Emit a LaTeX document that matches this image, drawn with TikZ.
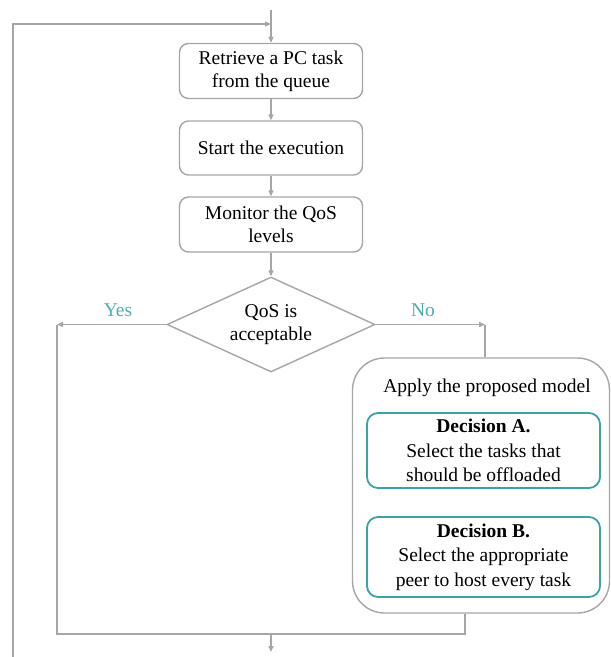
\documentclass[tikz,border=0pt]{standalone}
\usepackage{fontspec}
\setmainfont{Liberation Serif}
\usetikzlibrary{shapes.geometric,arrows.meta}
\definecolor{lineg}{HTML}{A6A6A6}
\definecolor{teal1}{HTML}{3AA3A6}
\definecolor{teallab}{HTML}{4BAEB0}
\tikzset{
  x=1pt,y=1pt,
  conn/.style={draw=lineg,line width=1.4pt},
  arr/.style={conn,-{Triangle[length=6pt,width=5pt]}},
  stepbox/.style={draw=lineg,line width=1.4pt,rounded corners=9pt,minimum width=183pt,minimum height=55pt,align=center,font=\fontsize{19.5}{23}\selectfont,inner sep=0pt},
  decbox/.style={draw=teal1,line width=1.8pt,rounded corners=11pt,minimum width=233pt,align=center,font=\fontsize{19.5}{24.5}\selectfont,inner sep=0pt},
  lab/.style={text=teallab,font=\fontsize{19.5}{22}\selectfont}
}
\begin{document}
\begin{tikzpicture}
\useasboundingbox (0,0) rectangle (611,-657);
\node[stepbox] (b1) at (271,-71) {Retrieve a PC task\\from the queue};
\node[stepbox,minimum height=54pt] (b2) at (271,-148) {Start the execution};
\node[stepbox] (b3) at (271,-224.5) {Monitor the QoS\\levels};
\node[draw=lineg,line width=1.4pt,diamond,minimum width=208pt,minimum height=95pt,inner sep=0pt] (d) at (271,-324.5) {};
\node[align=center,font=\fontsize{19.5}{23}\selectfont,inner sep=0pt] (dt) at (d.center) {QoS is\\acceptable};
% big box
\node[draw=lineg,line width=1.4pt,rounded corners=32pt,minimum width=257pt,minimum height=255pt,inner sep=0pt] (big) at (481,-485.5) {};
\node[font=\fontsize{19.5}{23}\selectfont] (apply) at (487,-388) {Apply the proposed model};
\node[decbox,minimum height=75pt] (da) at (483.5,-450.5) {\textbf{Decision A.}\\Select the tasks that\\should be offloaded};
\node[decbox,minimum height=80pt] (db) at (483.5,-557) {\textbf{Decision B.}\\Select the appropriate\\peer to host every task};
% coordinates
\coordinate (top) at (271,-10);
\coordinate (loopin) at (271,-24);
\coordinate (lbot) at (13,-657);
\coordinate (ltop) at (13,-24);
\coordinate (yesend) at (57,-324.5);
\coordinate (noend) at (485,-324.5);
\coordinate (bl) at (57,-634);
\coordinate (br) at (465,-634);
\coordinate (mid) at (271,-634);
\coordinate (out) at (271,-652);
% connectors
\draw[arr] (top) -- (b1.north);
\draw[arr] (lbot) -- (ltop) -- (loopin);
\draw[arr] (b1) -- (b2);
\draw[arr] (b2) -- (b3);
\draw[arr] (b3) -- (d);
\draw[arr] (d.west) -- (yesend);
\draw[arr] (d.east) -- (noend);
\draw[conn] (noend) -- (noend |- big.north);
\draw[conn] (yesend) -- (bl) -- (br) -- (br |- big.south);
\draw[arr] (mid) -- (out);
% labels
\node[lab] (yes) at (118,-310) {Yes};
\node[lab] (no) at (423,-310) {No};
\end{tikzpicture}
\end{document}
